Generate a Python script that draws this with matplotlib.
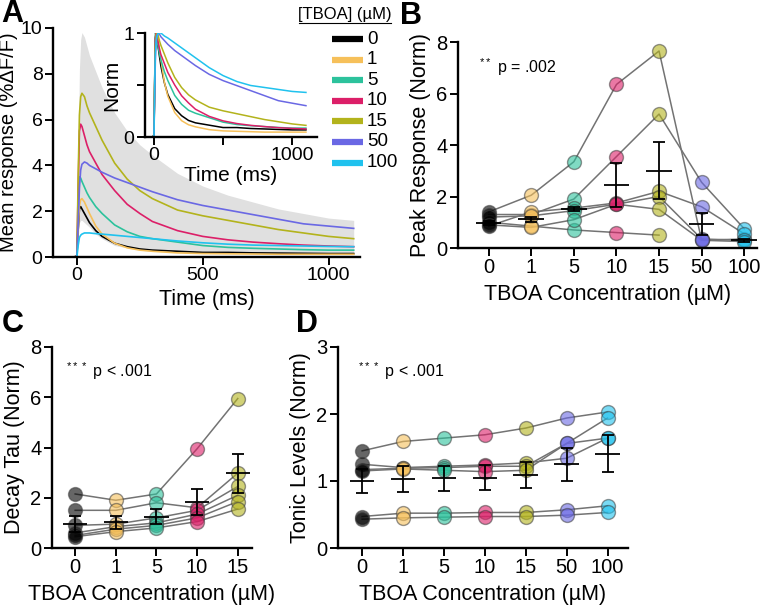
import numpy as np
import matplotlib
matplotlib.use('Agg')
import matplotlib.pyplot as plt
from matplotlib.lines import Line2D
from matplotlib.colors import to_rgba

plt.rcParams['font.family'] = ['Liberation Sans', 'DejaVu Sans']
plt.rcParams['mathtext.fontset'] = 'custom'
plt.rcParams['mathtext.rm'] = 'Liberation Sans'

W, H = 766, 605

conc_labels = ['0', '1', '5', '10', '15', '50', '100']
colours = ['#000000', '#f6c05a', '#2cc29c', '#dc1f68', '#b3b31c', '#6a68e4', '#20c2ee']

# ---- panel A: mean traces (%dF/F) at these times (ms)
t_ms = [-90, -10, 0, 5, 10, 15, 20, 30, 40, 50, 75, 100, 150, 200, 250, 300, 400, 500, 600, 700, 800, 900, 1000, 1100]
trace_0 = [0, 0, 0.05, 1.2, 2.1, 2.2, 2.1, 1.9, 1.7, 1.5, 1.15, 0.9, 0.6, 0.45, 0.35, 0.3, 0.25, 0.2, 0.2, 0.18, 0.17, 0.16, 0.15, 0.15]
trace_1 = [0, 0, 0.05, 1.2, 2.2, 2.5, 2.55, 2.4, 2.15, 1.9, 1.35, 1.0, 0.6, 0.4, 0.3, 0.25, 0.18, 0.15, 0.14, 0.13, 0.12, 0.12, 0.12, 0.12]
trace_5 = [0, 0, 0.05, 2.0, 3.5, 3.45, 3.3, 3.05, 2.8, 2.6, 2.2, 1.9, 1.4, 1.1, 0.9, 0.8, 0.65, 0.5, 0.42, 0.38, 0.35, 0.32, 0.3, 0.3]
trace_10 = [0, 0, 0.05, 3.0, 5.5, 5.8, 5.7, 5.3, 4.9, 4.6, 4.1, 3.6, 2.9, 2.3, 1.9, 1.55, 1.15, 0.9, 0.75, 0.65, 0.58, 0.52, 0.48, 0.45]
trace_15 = [0, 0, 0.05, 3.5, 6.2, 7.0, 7.15, 7.0, 6.6, 6.3, 5.7, 5.1, 4.1, 3.4, 2.9, 2.55, 2.05, 1.8, 1.6, 1.4, 1.2, 1.05, 0.9, 0.8]
trace_50 = [0, 0, 0.05, 1.5, 3.0, 3.8, 4.05, 4.15, 4.1, 4.0, 3.85, 3.7, 3.45, 3.25, 3.05, 2.85, 2.5, 2.25, 2.05, 1.85, 1.65, 1.45, 1.35, 1.25]
trace_100 = [0, 0, 0.0, 0.5, 0.85, 0.95, 1.0, 1.05, 1.05, 1.05, 1.02, 1.0, 0.95, 0.9, 0.85, 0.8, 0.7, 0.62, 0.56, 0.52, 0.5, 0.48, 0.46, 0.45]
band_hi = [0, 0, 0, 4.5, 8.2, 9.5, 9.8, 9.6, 9.2, 8.8, 8.1, 7.4, 6.3, 5.5, 4.9, 4.45, 3.65, 3.1, 2.7, 2.4, 2.1, 1.9, 1.7, 1.6]
band_lo = [0, 0, 0, 0.8, 1.5, 1.6, 1.6, 1.5, 1.4, 1.3, 1.0, 0.8, 0.5, 0.4, 0.3, 0.25, 0.2, 0.15, 0.15, 0.15, 0.12, 0.12, 0.1, 0.1]
traces = [trace_0, trace_1, trace_5, trace_10, trace_15, trace_50, trace_100]

# ---- panel B: peak response (norm), one row per slice
peak_s1 = [1.40, 2.05, 3.35, 6.35, 7.65, 0.30, 0.35]
peak_s2 = [1.30, 1.30, 1.90, 3.55, 5.20, 2.55, 0.75]
peak_s3 = [1.00, 0.85, 0.70, 0.60, 0.50, np.nan, np.nan]
peak_s4 = [0.85, 1.40, 1.55, 1.75, 2.20, 1.60, 0.55]
peak_s5 = [1.20, 1.25, 1.45, 1.70, 2.00, 0.35, 0.30]
peak_s6 = [0.90, 0.80, 1.10, 1.70, 1.50, 0.30, 0.25]
peak_mean = [0.98, 1.12, 1.50, 2.45, 3.00, 0.94, 0.30]
peak_sem = [0.08, 0.10, 0.08, 0.85, 1.10, 0.42, 0.05]

# ---- panel C: decay tau (norm)
tau_s1 = [2.15, 1.90, 2.15, 3.95, 5.95]
tau_s2 = [1.50, 1.50, 1.80, 1.60, 2.98]
tau_s3 = [0.90, 0.95, 1.20, 1.50, 2.45]
tau_s4 = [0.60, 0.85, 1.00, 1.35, 2.10]
tau_s5 = [0.50, 0.75, 0.90, 1.20, 1.85]
tau_s6 = [0.45, 0.65, 0.80, 1.05, 1.55]
tau_mean = [0.95, 1.02, 1.25, 1.83, 2.97]
tau_sem = [0.32, 0.25, 0.30, 0.50, 0.77]

# ---- panel D: tonic levels (norm)
tonic_s1 = [1.45, 1.59, 1.64, 1.69, 1.79, 1.94, 2.03]
tonic_s2 = [1.25, 1.20, 1.22, 1.24, 1.27, 1.34, 1.64]
tonic_s3 = [1.17, 1.19, 1.20, 1.22, 1.22, 1.56, 1.94]
tonic_s4 = [1.15, 1.18, 1.16, 1.14, 1.16, 1.56, 1.64]
tonic_s5 = [0.47, 0.52, 0.52, 0.53, 0.53, 0.57, 0.63]
tonic_s6 = [0.43, 0.45, 0.46, 0.47, 0.47, 0.49, 0.53]
tonic_mean = [1.00, 1.03, 1.04, 1.05, 1.09, 1.25, 1.41]
tonic_sem = [0.18, 0.19, 0.19, 0.19, 0.20, 0.25, 0.27]


def box(x0, y0, x1, y1):
    # pixel box (left, top, right, bottom) -> figure rect
    return [x0 / W, 1 - y1 / H, (x1 - x0) / W, (y1 - y0) / H]


def style(ax, fs=14.5):
    for s in ['top', 'right']:
        ax.spines[s].set_visible(False)
    for s in ['left', 'bottom']:
        ax.spines[s].set_linewidth(1.7)
    ax.tick_params(width=1.4, length=5.5, labelsize=fs, pad=2)


def dotplot(ax, subjects, mean, sem, n, ylim, yticks, ylabel, ptext):
    x = np.arange(n)
    for row in subjects:
        ax.plot(x, row[:n], '-', color='0.45', lw=1.1, zorder=1)
    for row in subjects:
        for i in range(n):
            if np.isnan(row[i]):
                continue
            ax.plot(i, row[i], 'o', ms=10, mfc=to_rgba(colours[i], 0.6),
                    mec=to_rgba('0.25', 0.55), mew=1, zorder=2)
    ax.hlines(mean[:n], x - 0.3, x + 0.3, color='k', lw=1.3, zorder=3)
    ax.errorbar(x, mean[:n], yerr=sem[:n], fmt='none', ecolor='k', elinewidth=1.3,
                capsize=4.5, capthick=1.3, zorder=3)
    ax.set_xticks(x)
    ax.set_xticklabels(conc_labels[:n])
    ax.set_ylim(ylim)
    ax.set_yticks(yticks)
    ax.set_ylabel(ylabel, fontsize=15.5, labelpad=4)
    ax.set_xlabel('TBOA Concentration (µM)', fontsize=15.5, labelpad=5)
    ax.text(0.07, 0.85, ptext, transform=ax.transAxes, fontsize=11.5)
    style(ax)


fig = plt.figure(figsize=(W / 100, H / 100), dpi=100)

# ---- A
axA = fig.add_axes(box(53, 28, 360, 257))
t = np.array(t_ms)
axA.fill_between(t, band_lo, band_hi, color='#e0e0e0', lw=0, zorder=0)
for tr, c in zip(traces, colours):
    axA.plot(t, tr, color=c, lw=1.2)
axA.set_xlim(-95, 1125)
axA.set_ylim(0, 10)
axA.set_yticks([0, 2, 4, 6, 8, 10])
axA.set_xticks([0, 500, 1000])
axA.set_ylabel('Mean response (%ΔF/F)', fontsize=14.5, labelpad=2)
axA.set_xlabel('Time (ms)', fontsize=15.5, labelpad=3)
style(axA, fs=14)

# inset: traces normalised to their peak
axI = fig.add_axes(box(145, 33, 317, 137))
for tr, c in zip(traces, colours):
    tr = np.array(tr)
    axI.plot(t, tr / tr.max(), color=c, lw=1.1)
axI.set_xlim(-65, 1180)
axI.set_ylim(0, 1)
axI.set_xticks([0, 500, 1000])
axI.set_xticklabels(['0', '', '1000'])
axI.set_yticks([0, 0.5, 1])
axI.set_yticklabels(['0', '', '1'])
axI.set_xlabel('Time (ms)', fontsize=15, labelpad=1)
axI.set_ylabel('Norm', fontsize=15, labelpad=2)
style(axI, fs=14)
axI.patch.set_alpha(0)

# legend
fig.text(345 / W, 1 - 15 / H, '[TBOA] (µM)', fontsize=12, ha='center', va='center')
fig.add_artist(Line2D([299 / W, 391 / W], [1 - 23 / H, 1 - 23 / H], color='k', lw=0.8))
for i, (lab, c) in enumerate(zip(conc_labels, colours)):
    yf = 1 - (39 + i * 20.6) / H
    fig.add_artist(Line2D([332 / W, 363 / W], [yf, yf], color=c, lw=4.5, solid_capstyle='butt'))
    fig.text(367 / W, yf, lab, fontsize=13.5, va='center')

# ---- B
axB = fig.add_axes(box(458, 42, 757, 248))
dotplot(axB, [peak_s1, peak_s2, peak_s3, peak_s4, peak_s5, peak_s6], peak_mean, peak_sem, 7,
        (0, 8), [0, 2, 4, 6, 8], 'Peak Response (Norm)', r'$^{**}$ p = .002')
axB.set_xlim(-0.72, 6.3)

# ---- C
axC = fig.add_axes(box(52, 347, 252, 548))
dotplot(axC, [tau_s1, tau_s2, tau_s3, tau_s4, tau_s5, tau_s6], tau_mean, tau_sem, 5,
        (0, 8), [0, 2, 4, 6, 8], 'Decay Tau (Norm)', r'$^{***}$ p < .001')
axC.set_xlim(-0.57, 4.35)

# ---- D
axD = fig.add_axes(box(338, 347, 628, 548))
dotplot(axD, [tonic_s1, tonic_s2, tonic_s3, tonic_s4, tonic_s5, tonic_s6], tonic_mean, tonic_sem, 7,
        (0, 3), [0, 1, 2, 3], 'Tonic Levels (Norm)', r'$^{***}$ p < .001')
axD.set_xlim(-0.59, 6.5)

# panel letters
for lab, x, y in [('A', 1, 14), ('B', 400, 16), ('C', 2, 324), ('D', 296, 324)]:
    fig.text(x / W, 1 - y / H, lab, fontsize=22, fontweight='bold', va='center')

plt.savefig('out.png', dpi=100)
